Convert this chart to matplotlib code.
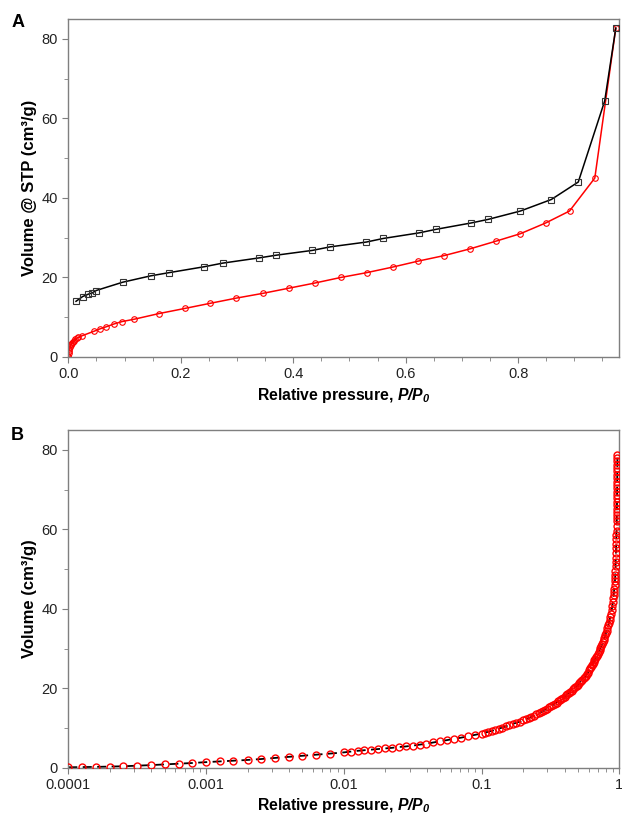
import matplotlib
matplotlib.use("Agg")
import matplotlib.pyplot as plt
from matplotlib.ticker import MultipleLocator, NullFormatter, LogLocator

plt.rcParams['font.family'] = ['Liberation Sans', 'DejaVu Sans']
plt.rcParams['mathtext.fontset'] = 'custom'
plt.rcParams['mathtext.rm'] = 'Liberation Sans'
plt.rcParams['mathtext.it'] = 'Liberation Sans:italic'
plt.rcParams['mathtext.bf'] = 'Liberation Sans:bold'
plt.rcParams['mathtext.bfit'] = 'Liberation Sans:italic:bold'

# ---- Panel A data ----
a_black_x = [0.0137, 0.0256, 0.0356, 0.0427, 0.0492, 0.0967, 0.1465, 0.179, 0.242, 0.2745,
             0.3385, 0.370, 0.434, 0.466, 0.530, 0.560, 0.6235, 0.654, 0.7165, 0.7467,
             0.804, 0.859, 0.907, 0.954, 0.9737]
a_black_y = [14.0, 15.2, 15.8, 16.1, 16.7, 18.8, 20.4, 21.2, 22.7, 23.6,
             24.9, 25.6, 26.8, 27.7, 28.9, 29.8, 31.2, 32.1, 33.7, 34.6,
             36.7, 39.6, 44.0, 64.4, 82.7]

a_red_x = [0.00005, 0.0002, 0.0005, 0.001, 0.002, 0.003, 0.004, 0.005, 0.006, 0.008,
           0.010, 0.012, 0.015, 0.018, 0.0238, 0.0463, 0.057, 0.0676, 0.0812, 0.0955,
           0.1174, 0.1607, 0.207, 0.2525, 0.2987, 0.346, 0.3924, 0.4386, 0.4848, 0.5305,
           0.5767, 0.622, 0.6685, 0.7147, 0.760, 0.804, 0.849, 0.8914, 0.9364, 0.9737]
a_red_y = [0.1, 0.3, 0.9, 1.5, 2.0, 2.5, 2.9, 3.2, 3.4, 3.8,
           4.1, 4.4, 4.7, 4.9, 5.3, 6.5, 7.1, 7.6, 8.3, 8.9,
           9.5, 10.9, 12.2, 13.5, 14.8, 16.0, 17.3, 18.6, 20.0, 21.2,
           22.6, 24.1, 25.5, 27.2, 29.1, 31.0, 33.7, 36.7, 45.0, 82.7]

# ---- Panel B data ----
b_x = [0.0001, 0.000126, 0.000158, 0.0002, 0.000251, 0.000316, 0.000398, 0.000501, 0.000631, 0.000794,
       0.001, 0.00126, 0.00158, 0.002, 0.00251, 0.00316, 0.00398, 0.00501, 0.00631, 0.00794,
       0.01, 0.0112, 0.0126, 0.0141, 0.0158, 0.0178, 0.02, 0.0224, 0.0251, 0.0282,
       0.0316, 0.0355, 0.0398, 0.0447, 0.05, 0.0562, 0.0631, 0.0708, 0.0794, 0.0891,
       0.1, 0.106, 0.112, 0.119, 0.126, 0.133, 0.141, 0.15, 0.158, 0.168,
       0.178, 0.189, 0.2, 0.21, 0.22, 0.23, 0.24, 0.25, 0.26, 0.27,
       0.28, 0.29, 0.30, 0.31, 0.32, 0.33, 0.34, 0.35, 0.36, 0.37,
       0.38, 0.39, 0.40, 0.41, 0.42, 0.43, 0.44, 0.45, 0.46, 0.47,
       0.48, 0.49, 0.50, 0.51, 0.52, 0.53, 0.54, 0.55, 0.56, 0.57,
       0.58, 0.59, 0.60, 0.61, 0.62, 0.63, 0.64, 0.65, 0.66, 0.67,
       0.68, 0.69, 0.70, 0.71, 0.72, 0.73, 0.74, 0.75, 0.76, 0.77,
       0.78, 0.79, 0.80, 0.81, 0.82, 0.83, 0.84, 0.85, 0.86, 0.87,
       0.88, 0.89, 0.90, 0.905, 0.91, 0.915, 0.92, 0.925, 0.93, 0.933,
       0.935, 0.937, 0.939, 0.941, 0.943, 0.945, 0.947, 0.949, 0.951, 0.953,
       0.955, 0.957, 0.959, 0.9595, 0.960, 0.9605, 0.961, 0.9615, 0.962, 0.9625,
       0.963, 0.9635, 0.964, 0.9645, 0.965, 0.9655, 0.966, 0.9665, 0.967, 0.9675,
       0.968, 0.9685, 0.969]
b_y = [0.10, 0.15, 0.20, 0.28, 0.36, 0.50, 0.65, 0.82, 1.00, 1.18,
       1.40, 1.58, 1.75, 1.95, 2.18, 2.45, 2.72, 3.00, 3.28, 3.55,
       3.85, 4.05, 4.25, 4.40, 4.55, 4.70, 4.85, 5.00, 5.20, 5.35,
       5.55, 5.80, 6.05, 6.35, 6.65, 6.95, 7.25, 7.55, 7.90, 8.25,
       8.60, 8.85, 9.05, 9.30, 9.50, 9.80, 10.1, 10.4, 10.7, 11.0,
       11.3, 11.6, 11.9, 12.2, 12.5, 12.8, 13.1, 13.4, 13.7, 14.0,
       14.3, 14.6, 14.9, 15.2, 15.5, 15.8, 16.1, 16.4, 16.7, 17.0,
       17.3, 17.6, 17.9, 18.2, 18.5, 18.8, 19.1, 19.4, 19.7, 20.0,
       20.3, 20.6, 20.9, 21.2, 21.6, 21.9, 22.2, 22.5, 22.8, 23.2,
       23.5, 23.8, 24.6, 25.0, 25.4, 25.8, 26.2, 26.6, 27.0, 27.4,
       27.8, 28.2, 28.7, 29.1, 29.6, 30.1, 30.6, 31.1, 31.6, 32.1,
       32.7, 33.3, 33.9, 34.5, 35.1, 35.8, 36.5, 37.2, 38.0, 38.8,
       39.7, 40.7, 41.8, 42.6, 43.4, 44.2, 45.0, 46.0, 47.0, 47.8,
       48.6, 49.6, 50.7, 51.8, 52.9, 54.0, 55.2, 56.4, 57.5, 58.6,
       59.7, 60.8, 62.0, 62.8, 63.6, 64.4, 65.2, 66.1, 66.9, 67.8,
       68.6, 69.5, 70.3, 71.2, 72.0, 72.9, 73.7, 74.6, 75.4, 76.3,
       77.1, 78.0, 78.8]

y_ticks = [0, 20, 40, 60, 80]

GRAY = '#7f7f7f'

fig = plt.figure(figsize=(6.22, 8.18), dpi=100)
axA = fig.add_axes([0.1098, 0.5636, 0.8859, 0.4132])
axB = fig.add_axes([0.1098, 0.0615, 0.8859, 0.4128])

def style(ax):
    for s in ax.spines.values():
        s.set_color(GRAY)
        s.set_linewidth(1.0)
    ax.tick_params(which='both', direction='out', colors=GRAY, labelcolor='#222222',
                   labelsize=10.5, top=False, right=False)
    ax.tick_params(which='major', length=4)
    ax.tick_params(which='minor', length=3)
    ax.set_ylim(0, 85)
    ax.set_yticks(y_ticks)
    ax.yaxis.set_minor_locator(MultipleLocator(10))

xlabel = r'Relative pressure, $\mathbfit{P/P}_{\mathbfit{0}}$'

# Panel A
axA.plot(a_black_x, a_black_y, color='black', lw=1.1, marker='s', ms=4,
         mfc='none', mec='#333333', mew=0.8, zorder=3)
axA.plot(a_red_x, a_red_y, color='red', lw=1.1, marker='o', ms=4,
         mfc='none', mec='red', mew=0.8, zorder=2)
style(axA)
axA.set_xlim(0, 0.98)
axA.set_xticks([0.0, 0.2, 0.4, 0.6, 0.8])
axA.set_xticklabels(['0.0', '0.2', '0.4', '0.6', '0.8'])
axA.xaxis.set_minor_locator(MultipleLocator(0.05))
axA.set_xlabel(xlabel, fontsize=11.3, fontweight='bold', labelpad=3)
axA.set_ylabel('Volume @ STP (cm³/g)', fontsize=12, fontweight='bold', labelpad=3)

# Panel B
axB.plot(b_x, b_y, color='black', lw=1.3, ls=(0, (5, 3)), zorder=2)
axB.plot(b_x, b_y, ls='none', marker='o', ms=5, mfc='none', mec='red', mew=1.0, zorder=3)
axB.set_xscale('log')
style(axB)
axB.set_xlim(0.0001, 1)
axB.set_xticks([0.0001, 0.001, 0.01, 0.1, 1])
axB.set_xticklabels(['0.0001', '0.001', '0.01', '0.1', '1'])
axB.xaxis.set_minor_locator(LogLocator(base=10, subs=[2, 3, 4, 5, 6, 7, 8, 9], numticks=20))
axB.xaxis.set_minor_formatter(NullFormatter())
axB.set_xlabel(xlabel, fontsize=11.3, fontweight='bold', labelpad=3)
axB.set_ylabel('Volume (cm³/g)', fontsize=12, fontweight='bold', labelpad=3)

fig.text(0.018, 0.972, 'A', fontsize=13, fontweight='bold', va='center', ha='left')
fig.text(0.018, 0.468, 'B', fontsize=13, fontweight='bold', va='center', ha='left')

fig.savefig('out.png', dpi=100)
